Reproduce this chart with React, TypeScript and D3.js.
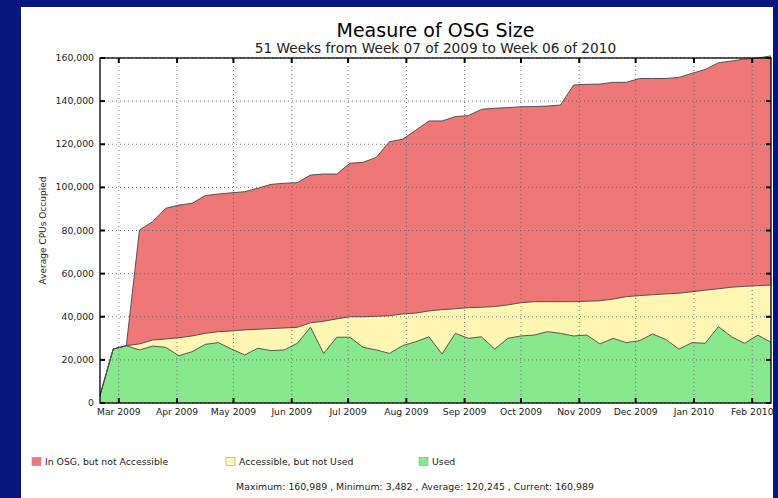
import React from 'react';
import * as d3 from 'd3';

// weekly samples, week 07 of 2009 .. week 06 of 2010
const startDate = new Date(Date.UTC(2009, 1, 19));
const weekCount = 52;

const used = [
  3482, 25000, 26600, 24600, 26400, 25800, 21900, 23800, 27200, 28000,
  25000, 22300, 25400, 24300, 24600, 27700, 35100, 23000, 30500, 30500,
  25800, 24600, 23000, 26600, 28400, 30700, 22700, 32300, 30000, 30700,
  25000, 30000, 31100, 31500, 33100, 32300, 31100, 31500, 27400, 30000,
  28000, 28900, 32000, 29500, 25000, 28000, 27700, 35400, 30700, 27700,
  31500, 28100,
];
const accessibleNotUsed = [
  0, 0, 0, 2800, 2800, 3900, 8400, 7300, 5100, 5100,
  8400, 11600, 8800, 10200, 10200, 7400, 2100, 14900, 8500, 9500,
  14200, 15600, 17500, 14700, 13300, 12000, 20600, 11400, 14200, 13700,
  19700, 15500, 15400, 15500, 13900, 14700, 15900, 15700, 20000, 18200,
  21300, 20900, 18200, 21100, 25900, 23600, 24600, 17600, 23000, 26400,
  22900, 26600,
];
const notAccessible = [
  0, 0, 0, 52800, 54900, 60600, 61500, 61500, 63900, 63800,
  64100, 64100, 65400, 66900, 67100, 67100, 68500, 68300, 67200, 71200,
  71600, 73700, 80700, 81000, 84800, 88100, 87500, 89100, 89100, 91800,
  92000, 91500, 90900, 90500, 90700, 91200, 100500, 100600, 100500, 100500,
  99400, 100700, 100300, 99900, 100100, 101300, 102400, 104800, 104900, 105400,
  105600, 106289,
];

const seriesKeys = ['used', 'accessible', 'osg'];
const seriesLabels = ['Used', 'Accessible, but not Used', 'In OSG, but not Accessible'];
const seriesColors = ['#88e88e', '#fff6b4', '#ee7777'];
const yTicks = [0, 20000, 40000, 60000, 80000, 100000, 120000, 140000, 160000];

const W = 778;
const H = 498;
const margin = { left: 100, right: 7, top: 58, bottom: 95 };
const font = 'DejaVu Sans, sans-serif';

export default function App() {
  const dates = d3.range(weekCount).map(i => d3.utcDay.offset(startDate, 7 * i));
  const rows = dates.map((d, i) => ({
    date: d,
    used: used[i],
    accessible: accessibleNotUsed[i],
    osg: notAccessible[i],
  }));

  const x = d3.scaleUtc()
    .domain([dates[0], dates[dates.length - 1]])
    .range([margin.left, W - margin.right]);
  const y = d3.scaleLinear()
    .domain([0, 160000])
    .range([H - margin.bottom, margin.top]);

  const stacked = d3.stack<any>().keys(seriesKeys)(rows);
  const area = d3.area<any>()
    .x(d => x(d.data.date))
    .y0(d => y(d[0]))
    .y1(d => y(d[1]));
  const topLine = d3.line<any>()
    .x(d => x(d.data.date))
    .y(d => y(d[1]));

  const xTicks = x.ticks(d3.utcMonth.every(1) as any);
  const fmtMonth = d3.utcFormat('%b %Y');
  const fmtNum = d3.format(',');

  const x0 = margin.left;
  const x1 = W - margin.right;
  const y0 = H - margin.bottom;
  const y1 = margin.top;

  const legendOrder = [2, 1, 0];
  const legendX = [32, 226, 419];

  return (
    <svg width={W} height={H} style={{ position: 'absolute', left: 0, top: 0 }} fontFamily={font}>
      <rect x={0} y={0} width={W} height={H} fill="#06167e" />
      <rect x={21} y={7} width={752} height={H - 7} fill="#ffffff" />

      <text x={(x0 + x1) / 2} y={36.5} textAnchor="middle" fontSize={19} fill="#000">
        Measure of OSG Size
      </text>
      <text x={(x0 + x1) / 2} y={52.5} textAnchor="middle" fontSize={13.7} fill="#222">
        51 Weeks from Week 07 of 2009 to Week 06 of 2010
      </text>

      {stacked.map((s, i) => (
        <path key={s.key} d={area(s) || ''} fill={seriesColors[i]} stroke="none" />
      ))}
      {stacked.map((s, i) => (
        <path key={'l' + s.key} d={topLine(s) || ''} fill="none" stroke="#444" strokeWidth={0.9} />
      ))}

      {/* grid */}
      {yTicks.map(t => (
        <line key={'gy' + t} x1={x0} x2={x1} y1={y(t)} y2={y(t)} stroke="#555" strokeWidth={0.8} strokeDasharray="1,3" />
      ))}
      {xTicks.map(t => (
        <line key={'gx' + t.getTime()} x1={x(t)} x2={x(t)} y1={y0} y2={y1} stroke="#555" strokeWidth={0.8} strokeDasharray="1,3" />
      ))}

      {/* frame */}
      <rect x={x0} y={y1} width={x1 - x0} height={y0 - y1} fill="none" stroke="#000" strokeWidth={1.3} />

      {yTicks.map(t => (
        <g key={'ty' + t}>
          <line x1={x0} x2={x0 + 5} y1={y(t)} y2={y(t)} stroke="#000" strokeWidth={2} />
          <line x1={x1 - 5} x2={x1} y1={y(t)} y2={y(t)} stroke="#000" strokeWidth={2} />
          <text x={x0 - 6} y={y(t) + 3} textAnchor="end" fontSize={9.3} fill="#222">
            {fmtNum(t)}
          </text>
        </g>
      ))}
      {xTicks.map(t => (
        <g key={'tx' + t.getTime()}>
          <line x1={x(t)} x2={x(t)} y1={y0} y2={y0 - 5} stroke="#000" strokeWidth={2} />
          <line x1={x(t)} x2={x(t)} y1={y1} y2={y1 + 5} stroke="#000" strokeWidth={2} />
          <text x={x(t)} y={y0 + 12} textAnchor="middle" fontSize={9.2} fill="#222">
            {fmtMonth(t)}
          </text>
        </g>
      ))}

      <text transform={`translate(46,${(y0 + y1) / 2}) rotate(-90)`} textAnchor="middle" fontSize={9} fill="#222">
        Average CPUs Occupied
      </text>

      {legendOrder.map((k, i) => (
        <g key={'lg' + k}>
          <rect x={legendX[i]} y={457.5} width={9} height={8} fill={seriesColors[k]} stroke="#999" strokeWidth={0.6} />
          <text x={legendX[i] + 13} y={464.5} fontSize={9.3} fill="#222">
            {seriesLabels[k]}
          </text>
        </g>
      ))}

      <text x={415} y={490} textAnchor="middle" fontSize={9.4} fill="#222">
        Maximum: 160,989 , Minimum: 3,482 , Average: 120,245 , Current: 160,989
      </text>
    </svg>
  );
}
